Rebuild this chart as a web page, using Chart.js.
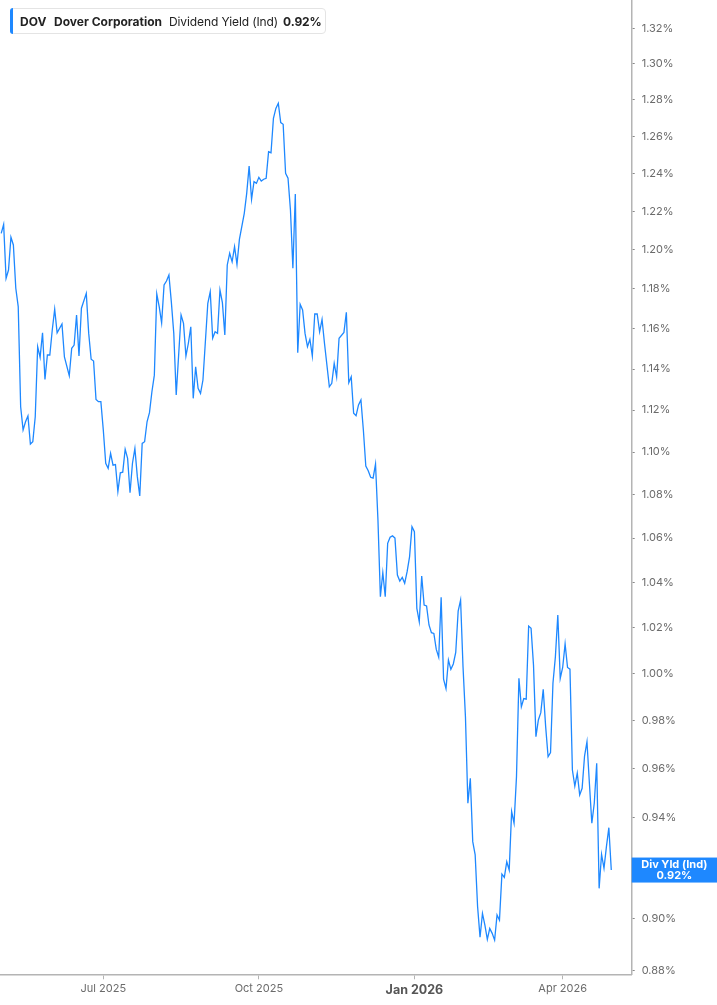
<!DOCTYPE html>
<html>
<head>
<meta charset="utf-8">
<script src="https://cdn.jsdelivr.net/npm/chart.js@4.4.1/dist/chart.umd.min.js"></script>
<style>
  html, body { margin: 0; padding: 0; background: #fff; }
  #wrap { position: relative; width: 717px; height: 1005px; }
  #legend {
    position: absolute; left: 10px; top: 8px; width: 314px; height: 24px;
    border: 1px solid #e4e4e4; border-radius: 4px; background: #fff;
    font-family: Inter, "Noto Sans", sans-serif; font-size: 12px; color: #222;
  }
  #legend .bar { position: absolute; left: -1px; top: -1px; width: 3px; height: 26px; background: #1e88ff; border-radius: 3px 0 0 3px; }
  #legend span { position: absolute; top: 5px; white-space: nowrap; }
  #legend b { font-weight: 700; }
</style>
</head>
<body>
<div id="wrap">
  <canvas id="divChart" width="717" height="1005"></canvas>
  <div id="legend">
    <div class="bar"></div>
    <span style="left:9px"><b>DOV</b></span>
    <span style="left:43px"><b>Dover Corporation</b></span>
    <span style="left:158px;letter-spacing:-0.1px">Dividend Yield (Ind)</span>
    <span style="left:272px;letter-spacing:-0.1px"><b>0.92%</b></span>
  </div>
</div>
<script>
// trading-day index (0 = first session shown) and indicated dividend yield (%)
const tradingDay = [
  0, 1, 2, 3, 4, 5, 6, 7, 8, 9, 10, 11, 12, 13, 14, 15, 16, 17, 18, 19,
  20, 21, 22, 23, 25, 26, 28, 29, 30, 31, 32, 33, 35, 36, 37, 38, 39, 40, 41, 42,
  43, 44, 45, 46, 47, 48, 49, 50, 51, 52, 53, 54, 55, 56, 57, 58, 59, 60, 61, 62,
  63, 64, 65, 66, 67, 68, 69, 70, 71, 72, 74, 75, 76, 77, 78, 79, 80, 81, 82, 83,
  85, 86, 87, 88, 89, 90, 91, 92, 93, 94, 95, 96, 97, 98, 100, 101, 102, 103, 104, 105,
  106, 107, 108, 109, 110, 111, 112, 113, 114, 115, 116, 117, 118, 119, 120, 121, 122, 123, 124, 125,
  126, 127, 128, 129, 130, 131, 132, 133, 135, 136, 137, 138, 139, 141, 142, 143, 144, 145, 146, 147,
  148, 149, 150, 151, 152, 153, 154, 155, 156, 157, 158, 159, 160, 161, 162, 163, 164, 165, 166, 167,
  168, 169, 170, 171, 172, 173, 174, 175, 176, 177, 178, 179, 180, 181, 182, 183, 184, 185, 186, 187,
  188, 189, 190, 191, 192, 193, 194, 195, 196, 197, 198, 199, 200, 201, 202, 203, 204, 205, 206, 207,
  208, 209, 210, 211, 212, 213, 214, 215, 216, 217, 218, 219, 220, 221, 222, 223, 224, 225, 226, 227,
  228, 229, 230, 231, 232, 233, 234, 235, 236, 237, 238, 239, 240, 241, 242, 243, 244, 245, 246, 247,
  248, 249, 250, 251
]
const divYield = [
  1.2085, 1.2132, 1.1854, 1.1896, 1.2065, 1.2025, 1.1803, 1.1710, 1.1216, 1.1105, 1.1144, 1.1172, 1.1038, 1.1049, 1.1168, 1.1510, 1.1457, 1.1579, 1.1349, 1.1469,
  1.1469, 1.1593, 1.1697, 1.1579, 1.1623, 1.1460, 1.1367, 1.1502, 1.1518, 1.1668, 1.1464, 1.1702, 1.1777, 1.1576, 1.1448, 1.1439, 1.1252, 1.1241, 1.1241, 1.1105,
  1.0947, 1.0923, 1.0994, 1.0938, 1.0941, 1.0814, 1.0902, 1.0905, 1.1013, 1.0970, 1.0809, 1.0947, 1.1017, 1.0884, 1.0794, 1.1041, 1.1049, 1.1144, 1.1188, 1.1289,
  1.1370, 1.1774, 1.1710, 1.1629, 1.1820, 1.1840, 1.1871, 1.1733, 1.1576, 1.1273, 1.1668, 1.1626, 1.1464, 1.1527, 1.1609, 1.1257, 1.1411, 1.1306, 1.1281, 1.1346,
  1.1727, 1.1785, 1.1552, 1.1584, 1.1576, 1.1794, 1.1730, 1.1568, 1.1922, 1.1982, 1.1938, 1.2016, 1.1925, 1.2054, 1.2190, 1.2295, 1.2440, 1.2264, 1.2357, 1.2348,
  1.2380, 1.2360, 1.2370, 1.2375, 1.2517, 1.2512, 1.2699, 1.2753, 1.2781, 1.2675, 1.2666, 1.2402, 1.2375, 1.2207, 1.1905, 1.2291, 1.1480, 1.1722, 1.1693, 1.1576,
  1.1510, 1.1547, 1.1464, 1.1673, 1.1673, 1.1584, 1.1646, 1.1527, 1.1313, 1.1330, 1.1428, 1.1362, 1.1552, 1.1581, 1.1682, 1.1333, 1.1362, 1.1185, 1.1173, 1.1225,
  1.1249, 1.1105, 1.0934, 1.0912, 1.0881, 1.0877, 1.0943, 1.0683, 1.0336, 1.0443, 1.0336, 1.0576, 1.0604, 1.0610, 1.0600, 1.0433, 1.0406, 1.0422, 1.0396, 1.0448,
  1.0515, 1.0652, 1.0629, 1.0284, 1.0225, 1.0428, 1.0299, 1.0295, 1.0211, 1.0177, 1.0174, 1.0104, 1.0070, 1.0333, 0.9976, 0.9935, 1.0058, 1.0018, 1.0041, 1.0091,
  1.0272, 1.0321, 1.0029, 0.9816, 0.9457, 0.9559, 0.9302, 0.9249, 0.9045, 0.8927, 0.9019, 0.8974, 0.8919, 0.8961, 0.8942, 0.8916, 0.9013, 0.8993, 0.9173, 0.9160,
  0.9222, 0.9189, 0.9423, 0.9376, 0.9566, 0.9979, 0.9858, 0.9893, 0.9890, 1.0206, 1.0196, 1.0036, 0.9732, 0.9802, 0.9833, 0.9932, 0.9774, 0.9648, 0.9665, 0.9958,
  1.0072, 1.0255, 0.9979, 1.0026, 1.0128, 1.0026, 1.0019, 0.9593, 0.9527, 0.9580, 0.9491, 0.9518, 0.9651, 0.9711, 0.9538, 0.9376, 0.9457, 0.9621, 0.9117, 0.9251,
  0.9196, 0.9282, 0.9358, 0.9189
]

// month ticks sit on the first session of the month
const xTickDays = [42, 106, 170, 231]
const xTickLabels = ['Jul 2025', 'Oct 2025', 'Jan 2026', 'Apr 2026']
const yearStartDay = 170

const yTicks = [0.88, 0.90, 0.92, 0.94, 0.96, 0.98, 1.00, 1.02, 1.04, 1.06, 1.08, 1.10,
  1.12, 1.14, 1.16, 1.18, 1.20, 1.22, 1.24, 1.26, 1.28, 1.30, 1.32]

const lineColor = '#1e88ff'
const axisGrey = '#b4b4b4'
const fontFamily = 'Inter, "Noto Sans", sans-serif'

// last value tag on the right axis
const lastTag = {
    id: 'lastTag',
    afterDraw(chart) {
        const ctx = chart.ctx
        const area = chart.chartArea
        const last = divYield[divYield.length - 1]
        const y = chart.scales.y.getPixelForValue(last)
        ctx.save()
        ctx.fillStyle = lineColor
        ctx.fillRect(area.right, y - 12.5, chart.width - area.right, 25)
        ctx.fillStyle = '#fff'
        ctx.font = 'bold 11px ' + fontFamily
        ctx.textAlign = 'center'
        ctx.textBaseline = 'middle'
        const cx = (area.right + chart.width) / 2
        ctx.fillText('Div Yld (Ind)', cx, y - 5)
        ctx.fillText(last.toFixed(2) + '%', cx, y + 6)
        ctx.restore()
    }
}

const ctxChart = document.getElementById('divChart')

new Chart(ctxChart, {
    type: 'line',
    data: {
        datasets: [{
            label: 'Dividend Yield (Ind)',
            data: tradingDay.map((d, i) => ({x: d, y: divYield[i]})),
            borderColor: lineColor,
            borderWidth: 1.3,
            pointRadius: 0,
            tension: 0,
            fill: false
        }]
    },
    options: {
        responsive: false,
        animation: false,
        layout: { padding: 0 },
        plugins: {
            legend: { display: false },
            tooltip: { enabled: false }
        },
        scales: {
            x: {
                type: 'linear',
                min: -0.5,
                max: 259.4,
                afterFit: (scale) => {
                    scale.height = 30.7
                    scale.paddingLeft = 0
                    scale.paddingRight = 0
                },
                afterBuildTicks: (scale) => {
                    scale.ticks = xTickDays.map(v => ({value: v}))
                },
                grid: {
                    drawOnChartArea: false,
                    drawTicks: true,
                    tickLength: 5,
                    tickColor: axisGrey
                },
                border: { display: true, color: axisGrey, width: 1.5 },
                ticks: {
                    autoSkip: false,
                    maxRotation: 0,
                    padding: 3,
                    callback: (v) => xTickLabels[xTickDays.indexOf(v)],
                    color: (c) => c.tick && c.tick.value === yearStartDay ? '#555' : '#6b6b6b',
                    font: (c) => c.tick && c.tick.value === yearStartDay
                        ? {family: fontFamily, size: 12.5, weight: 'bold'}
                        : {family: fontFamily, size: 11}
                }
            },
            y: {
                type: 'logarithmic',
                position: 'right',
                min: 0.87859,
                max: 1.33618,
                afterFit: (scale) => {
                    scale.width = 85.3
                    scale.paddingTop = 0
                    scale.paddingBottom = 0
                },
                afterBuildTicks: (scale) => {
                    scale.ticks = yTicks.map(v => ({value: v}))
                },
                grid: {
                    drawOnChartArea: false,
                    drawTicks: true,
                    tickLength: 3,
                    tickColor: '#888'
                },
                border: { display: true, color: axisGrey, width: 1.5 },
                ticks: {
                    autoSkip: false,
                    padding: 7,
                    color: '#6b6b6b',
                    font: {family: fontFamily, size: 11},
                    callback: (v) => Number(v).toFixed(2) + '%'
                }
            }
        }
    },
    plugins: [lastTag]
})
</script>
</body>
</html>
